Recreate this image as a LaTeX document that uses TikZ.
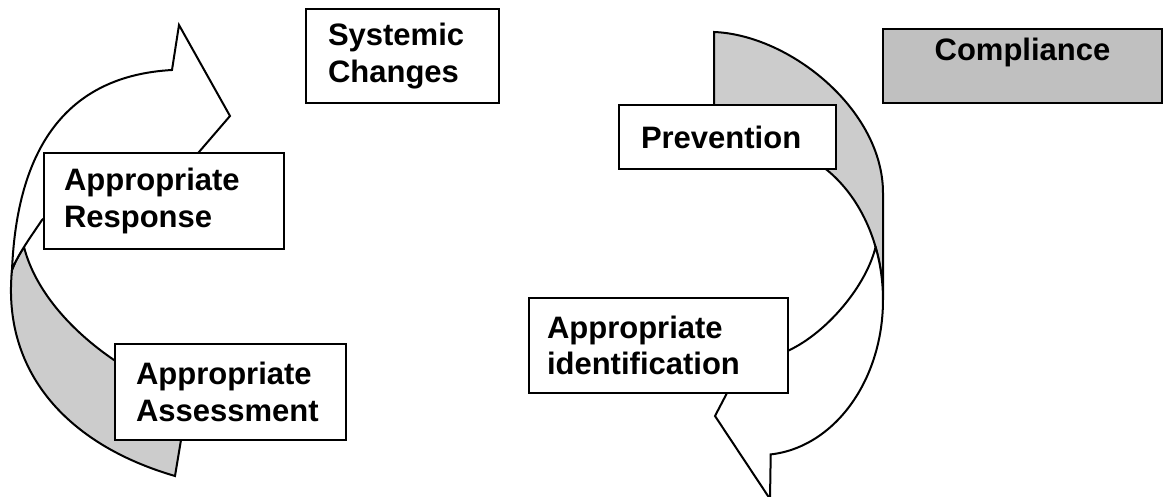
\documentclass[tikz,border=0pt]{standalone}
\usepackage{fontspec}
\setmainfont{Liberation Sans}
\definecolor{bandgray}{RGB}{204,204,204}
\definecolor{compgray}{RGB}{192,192,192}
\begin{document}
\begin{tikzpicture}[x=0.5pt,y=-0.5pt,
  outline/.style={draw=black, line width=1pt, line join=miter},
  box/.style={draw=black, fill=white, line width=1pt, anchor=north west, align=left,
    inner ysep=0pt, font=\fontsize{15.5}{18.3}\selectfont\bfseries}]
\useasboundingbox (0,0) rectangle (1163,497);

% ---------- left curved arrow ----------
\filldraw[outline, fill=bandgray]
  (12,270) .. controls (2,370) and (65,444) .. (175,476) -- (181,440) -- (185,400) -- (130,370) -- (114,360)
  .. controls (70,330) and (35,290) .. (24,247)
  .. controls (19,255) and (15,262) .. (12,270) -- cycle;
\filldraw[outline, fill=white]
  (12,270) .. controls (17,150) and (65,76) .. (172,70) -- (179,25) -- (230,116) -- (199,152)
  -- (185,170) -- (60,205) -- (42,220)
  .. controls (36,229) and (29,239) .. (24,247)
  .. controls (19,255) and (15,262) .. (12,270) -- cycle;

% ---------- right curved arrow ----------
\filldraw[outline, fill=bandgray]
  (714,130) -- (714,32) .. controls (790,35) and (883,110) .. (883,193) -- (883,300)
  -- plot[domain=0:-59, samples=40] ({760+123*cos(\x)},{300+155*sin(\x)})
  -- (790,150) -- cycle;
\filldraw[outline, fill=white]
  plot[domain=-20:85, samples=60] ({760+123*cos(\x)},{300+155*sin(\x)})
  -- (770,499) -- (715,416) -- (727,393) -- (745,372) -- (780,354)
  .. controls (820,340) and (865,290) .. (875.6,247) -- cycle;

% ---------- boxes ----------
\node[box, text width=74.5pt, inner xsep=11pt, minimum height=47pt] (sys) at (305,8) {Systemic\\Changes};
\node[box, text width=100pt, inner xsep=10pt, minimum height=48pt] (resp) at (43,152) {Appropriate\\Response};
\node[box, text width=94.5pt, inner xsep=10.5pt, minimum height=48pt] (assess) at (114,343) {Appropriate\\Assessment};
\node[box, text width=86.5pt, inner xsep=11pt, minimum height=32pt] (prev) at (618,104) {Prevention};
\node[box, text width=111.5pt, inner xsep=9pt, minimum height=47.5pt] (ident) at (528,297) {Appropriate\\identification};
\node[box, fill=compgray, align=center, text width=139.5pt, inner xsep=0pt,
  text height=16pt, text depth=21pt] (comp) at (882,28) {Compliance};
\end{tikzpicture}
\end{document}
